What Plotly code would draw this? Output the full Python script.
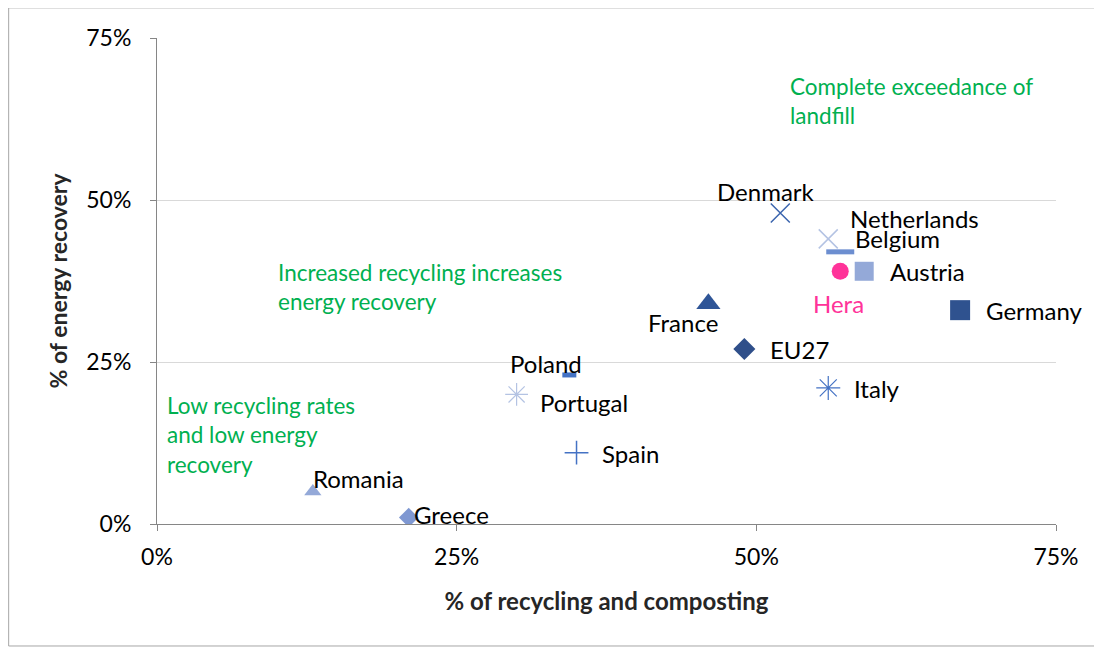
import plotly.graph_objects as go

# Countries (and Hera) - recycling/composting share vs energy recovery share
names = ["Denmark", "Netherlands", "Belgium", "Hera", "Austria", "Germany", "France",
         "EU27", "Italy", "Poland", "Portugal", "Spain", "Romania", "Greece"]
recycling = [52, 56, 57, 57, 59, 67, 46, 49, 56, 34.4, 30, 35, 13, 21]
energy = [48, 44, 42, 39, 39, 33, 34, 27, 21, 23, 20, 11, 5, 1]

tick_vals = [0, 25, 50, 75]
tick_text = ["0%", "25%", "50%", "75%"]

# marker style per point
symbols = ["x-thin-open", "x-thin-open", "line-ew-open", "circle", "square", "square",
           "triangle-up", "diamond", "asterisk-open", "line-ew-open", "asterisk-open",
           "cross-thin-open", "triangle-up", "diamond"]
colors = ["#3A64AE", "#B4C3E3", "#6C8ED0", "#FF3399", "#94A9D8", "#2F528F",
          "#2F5597", "#2F4F8A", "#4472C4", "#4472C4", "#B4C3E3",
          "#4472C4", "#94A9D8", "#7F98D2"]
sizes = [19, 19, 20, 17, 19, 20, 21, 17, 20, 10, 19, 17, 15, 15]
line_w = [1.5, 1.5, 5, 0, 0, 0, 0, 0, 1.2, 5, 1.2, 1.5, 0, 0]

# label placement (pixel offsets from the point)
label_dx = [-14, 20, 13, -2, 24, 24, -25, 24, 24, -23, 21, 23, -2, 3]
label_dy = [21, 20, 13, -32, 0, 0, -19, 0, -1, 11, -8, -1, 13, 3]
label_anchor = ["center", "left", "left", "center", "left", "left", "center", "left",
                "left", "center", "left", "left", "left", "left"]
label_color = ["#000000"] * 3 + ["#FF3399"] + ["#000000"] * 10

# green zone notes
notes = ["Complete exceedance of<br>landfill",
         "Increased recycling increases<br>energy recovery",
         "Low recycling rates<br>and low energy<br>recovery"]
note_x = [52.6, 9.95, 0.65]
note_y = [65.3, 36.6, 13.8]

FONT = "Lato, Calibri, 'Open Sans', sans-serif"

fig = go.Figure()
for i in range(len(names)):
    fig.add_trace(go.Scatter(
        x=[recycling[i]], y=[energy[i]], mode="markers", name=names[i],
        marker=dict(symbol=symbols[i], size=sizes[i], color=colors[i],
                    line=dict(color=colors[i], width=line_w[i])),
        showlegend=False,
    ))
    fig.add_annotation(x=recycling[i], y=energy[i], text=names[i], showarrow=False,
                       xanchor=label_anchor[i], yanchor="middle",
                       xshift=label_dx[i], yshift=label_dy[i],
                       font=dict(family=FONT, size=24, color=label_color[i]))

for t, nx, ny in zip(notes, note_x, note_y):
    fig.add_annotation(x=nx, y=ny, text=t, showarrow=False, xanchor="left",
                       yanchor="middle", align="left",
                       font=dict(family=FONT, size=22.5, color="#00B050"))

# outer chart border
fig.add_shape(type="rect", xref="paper", yref="paper",
              x0=-0.165, x1=1.048, y0=-0.251, y1=1.062,
              line=dict(color="#A6A6A6", width=1))

# the page adds an 8px body margin, so the margins are shifted by it
fig.update_layout(
    width=1102, height=653,
    margin=dict(l=149, r=54, t=30, b=137),
    plot_bgcolor="white", paper_bgcolor="white",
    font=dict(family=FONT, size=23, color="#000000"),
)
fig.update_xaxes(
    range=[0, 75], tickvals=tick_vals, ticktext=tick_text,
    showgrid=False, zeroline=False, showline=True, linecolor="#868686",
    ticks="outside", ticklen=6, tickcolor="#868686", ticklabelstandoff=6,
    title=dict(text="<b>% of recycling and composting</b>", standoff=24,
               font=dict(size=24, color="#262626")),
)
fig.update_yaxes(
    range=[0, 75], tickvals=tick_vals, ticktext=tick_text,
    showgrid=True, gridcolor="#D9D9D9", zeroline=False,
    showline=True, linecolor="#868686",
    ticks="outside", ticklen=6, tickcolor="#868686", ticklabelstandoff=14,
    title=dict(text="<b>% of energy recovery</b>", standoff=12,
               font=dict(size=23, color="#262626")),
)

fig.write_html("out.html")
